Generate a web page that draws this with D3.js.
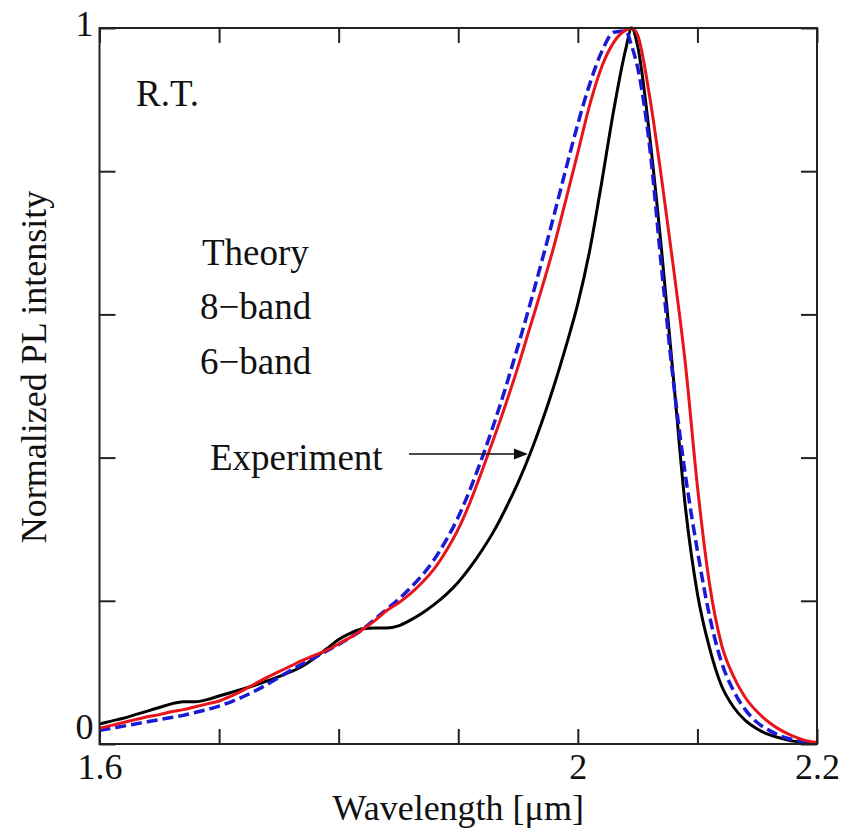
<!DOCTYPE html>
<html>
<head>
<meta charset="utf-8">
<script src="https://cdn.jsdelivr.net/npm/d3@7"></script>
<style>
  html, body { margin: 0; padding: 0; background: #fff; }
  svg { display: block; }
  text { font-family: "Liberation Serif", "Times New Roman", serif; fill: #111; }
</style>
</head>
<body>
<svg id="chart" width="853" height="833"></svg>
<script>
// ---- Data ----
const wavelength = [1.60,1.61,1.62,1.63,1.64,1.65,1.66,1.67,1.68,1.69,1.70,1.71,1.72,1.73,1.74,1.75,1.76,1.77,1.78,1.79,1.80,1.81,1.82,1.83,1.84,1.85,1.86,1.87,1.88,1.89,1.90,1.91,1.92,1.93,1.94,1.95,1.96,1.97,1.98,1.99,2.00,2.01,2.02,2.03,2.04,2.045,2.05,2.06,2.07,2.08,2.09,2.10,2.11,2.12,2.13,2.14,2.15,2.16,2.17,2.18,2.19,2.20];

const experiment = [0.028,0.032,0.036,0.041,0.046,0.051,0.056,0.059,0.059,0.062,0.067,0.072,0.077,0.082,0.088,0.094,0.101,0.109,0.120,0.133,0.146,0.155,0.161,0.162,0.162,0.165,0.173,0.183,0.195,0.209,0.226,0.247,0.271,0.298,0.330,0.365,0.405,0.450,0.500,0.555,0.615,0.690,0.785,0.885,0.970,1.000,0.975,0.850,0.690,0.510,0.330,0.210,0.135,0.082,0.052,0.033,0.021,0.013,0.008,0.004,0.002,0.001];

const band8 = [0.022,0.026,0.030,0.034,0.038,0.041,0.045,0.048,0.052,0.056,0.060,0.067,0.075,0.084,0.093,0.101,0.109,0.117,0.124,0.131,0.140,0.149,0.160,0.172,0.186,0.197,0.210,0.226,0.245,0.270,0.300,0.338,0.382,0.428,0.476,0.527,0.582,0.637,0.695,0.760,0.826,0.893,0.946,0.980,0.997,1.000,0.990,0.905,0.790,0.665,0.530,0.360,0.225,0.140,0.095,0.065,0.045,0.030,0.019,0.011,0.005,0.002];

const band6 = [0.019,0.022,0.025,0.028,0.031,0.034,0.037,0.040,0.044,0.048,0.053,0.059,0.066,0.074,0.083,0.093,0.103,0.112,0.121,0.130,0.139,0.149,0.160,0.174,0.188,0.202,0.218,0.236,0.258,0.285,0.317,0.356,0.400,0.448,0.500,0.556,0.614,0.675,0.738,0.803,0.866,0.922,0.967,0.994,0.996,0.975,0.945,0.835,0.665,0.505,0.375,0.270,0.180,0.115,0.075,0.048,0.030,0.019,0.011,0.006,0.003,0.001];

const xTickValues = [1.6,1.7,1.8,1.9,2.0,2.1,2.2];
const xTickLabels = {"1.6":"1.6","2":"2","2.2":"2.2"};
const yTickValues = [0,0.2,0.4,0.6,0.8,1];
const yTickLabels = {"0":"0","1":"1"};

(function draw() {
  const svg = d3.select("#chart");
  const W = 853, H = 833;
  const mLeft = 99.5, mRight = 817, mTop = 28, mBottom = 744;

  const x = d3.scaleLinear().domain([1.6, 2.2]).range([mLeft, mRight]);
  const y = d3.scaleLinear().domain([0, 1]).range([mBottom, mTop]);

  svg.append("rect").attr("width", W).attr("height", H).attr("fill", "#fff");

  const fontSize = 36;

  function styleAxis(g) {
    g.select(".domain").remove();
    g.selectAll(".tick line").attr("stroke", "#222").attr("stroke-width", 2);
    g.selectAll(".tick text").style("font-size", fontSize + "px")
      .style("font-family", '"Liberation Serif", "Times New Roman", serif').attr("fill", "#111");
  }

  svg.append("g").attr("transform", `translate(0,${mBottom})`)
    .call(d3.axisBottom(x).tickValues(xTickValues).tickSize(-15).tickPadding(9)
      .tickFormat(d => xTickLabels[String(+d.toFixed(2))] || ""))
    .call(styleAxis);

  svg.append("g").attr("transform", `translate(0,${mTop})`)
    .call(d3.axisTop(x).tickValues(xTickValues).tickSize(-15).tickFormat(""))
    .call(styleAxis);

  svg.append("g").attr("transform", `translate(${mLeft},0)`)
    .call(d3.axisLeft(y).tickValues(yTickValues).tickSize(-16).tickPadding(6)
      .tickFormat(d => yTickLabels[String(+d.toFixed(2))] || ""))
    .call(styleAxis)
    .selectAll(".tick text").attr("dy", d => d === 1 ? "0.2em" : "-0.15em");

  svg.append("g").attr("transform", `translate(${mRight},0)`)
    .call(d3.axisRight(y).tickValues(yTickValues).tickSize(-16).tickFormat(""))
    .call(styleAxis);

  svg.append("text")
    .attr("x", (mLeft + mRight) / 2).attr("y", 820)
    .attr("text-anchor", "middle").style("font-size", fontSize + "px")
    .text("Wavelength [μm]");

  svg.append("text")
    .attr("transform", `translate(46,367) rotate(-90)`)
    .attr("text-anchor", "middle").style("font-size", fontSize + "px")
    .text("Normalized PL intensity");

  const line = d3.line().x(d => x(d[0])).y(d => y(d[1])).curve(d3.curveMonotoneX);
  const g = svg.append("g");

  g.append("path").datum(wavelength.map((w, i) => [w, experiment[i]]))
    .attr("d", line).attr("fill", "none").attr("stroke", "#000").attr("stroke-width", 3);

  g.append("path").datum(wavelength.map((w, i) => [w, band6[i]]))
    .attr("d", line).attr("fill", "none").attr("stroke", "#1a1ad6").attr("stroke-width", 3.5)
    .attr("stroke-dasharray", "11,5");

  g.append("path").datum(wavelength.map((w, i) => [w, band8[i]]))
    .attr("d", line).attr("fill", "none").attr("stroke", "#e8141c").attr("stroke-width", 3);

  svg.append("rect")
    .attr("x", mLeft).attr("y", mTop)
    .attr("width", mRight - mLeft).attr("height", mBottom - mTop)
    .attr("fill", "none").attr("stroke", "#222").attr("stroke-width", 2);

  const annFont = 37;
  const ann = [
    {t: "R.T.", wl: 1.6305, v: 0.891},
    {t: "Theory", wl: 1.6857, v: 0.669},
    {t: "8\u2212band", wl: 1.684, v: 0.594},
    {t: "6\u2212band", wl: 1.684, v: 0.517},
    {t: "Experiment", wl: 1.6924, v: 0.383}
  ];
  svg.selectAll("text.ann").data(ann).enter().append("text")
    .attr("class", "ann")
    .attr("x", d => x(d.wl)).attr("y", d => y(d.v))
    .style("font-size", annFont + "px")
    .text(d => d.t);

  const arrow = {from: [1.8588, 0.405], to: [1.9583, 0.405]};
  const ax0 = x(arrow.from[0]), ax1 = x(arrow.to[0]), ay = y(arrow.from[1]);
  svg.append("line").attr("x1", ax0).attr("y1", ay).attr("x2", ax1 - 10).attr("y2", ay)
    .attr("stroke", "#111").attr("stroke-width", 1.5);
  svg.append("path")
    .attr("d", `M${ax1},${ay} L${ax1 - 14},${ay - 5.5} L${ax1 - 14},${ay + 5.5} Z`)
    .attr("fill", "#111");
})();
</script>
</body>
</html>
